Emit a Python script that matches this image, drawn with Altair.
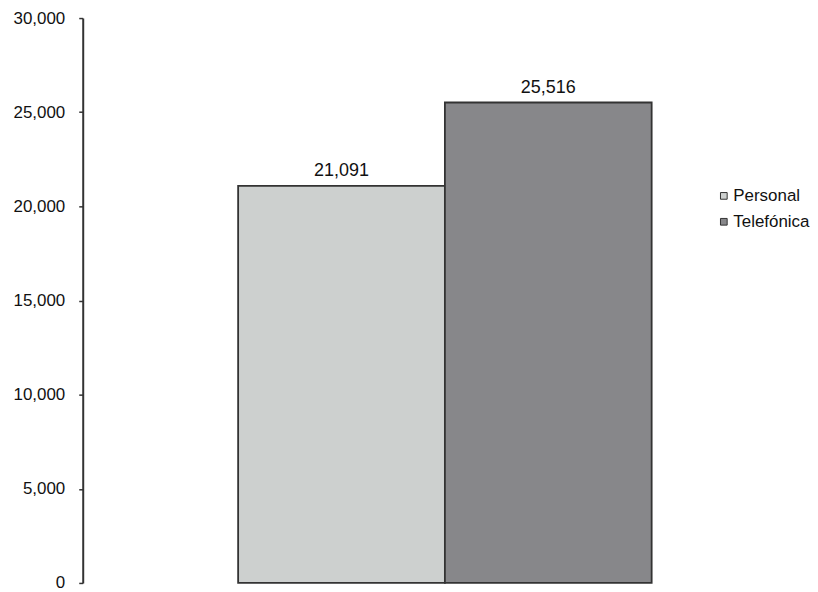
import altair as alt
import pandas as pd

categories = ["Personal", "Telefónica"]
values = [21091, 25516]
colors = ["#cdd0cf", "#87878a"]
y_ticks = [0, 5000, 10000, 15000, 20000, 25000, 30000]

df = pd.DataFrame({"operator": categories, "value": values})

x_enc = alt.X("operator:N", axis=None,
              scale=alt.Scale(domain=categories, paddingInner=0, paddingOuter=0.566,
                              align=0.664))

bars = alt.Chart(df).mark_bar(stroke="#333333", strokeWidth=1.8).encode(
    x=x_enc,
    y=alt.Y("value:Q",
            scale=alt.Scale(domain=[0, 30000], nice=False),
            axis=alt.Axis(values=y_ticks, format=",.0f", title=None, grid=False,
                          domainColor="#333333", domainWidth=2, tickColor="#333333",
                          tickWidth=1.5, tickSize=4, labelPadding=14, labelFontSize=17,
                          labelColor="#111111", labelFont="Liberation Sans")),
    color=alt.Color("operator:N",
                    scale=alt.Scale(domain=categories, range=colors),
                    legend=alt.Legend(title=None, orient="none", legendX=635, legendY=170,
                                      symbolType="square", symbolSize=45,
                                      symbolStrokeColor="#333333", symbolStrokeWidth=1,
                                      labelFontSize=17, labelFont="Liberation Sans",
                                      labelColor="#111111", rowPadding=8, labelOffset=1)),
)

labels = alt.Chart(df).mark_text(baseline="alphabetic", dy=-10, fontSize=18,
                                 font="Liberation Sans", color="#111111").encode(
    x=x_enc,
    y=alt.Y("value:Q"),
    text=alt.Text("value:Q", format=",.0f"),
)

chart = (bars + labels).properties(
    width=650, height=567,
    padding={"left": 5, "top": 0, "right": 0, "bottom": 0},
).configure_view(stroke=None)

chart.save("out.html", embed_options={"renderer": "svg", "actions": False})
